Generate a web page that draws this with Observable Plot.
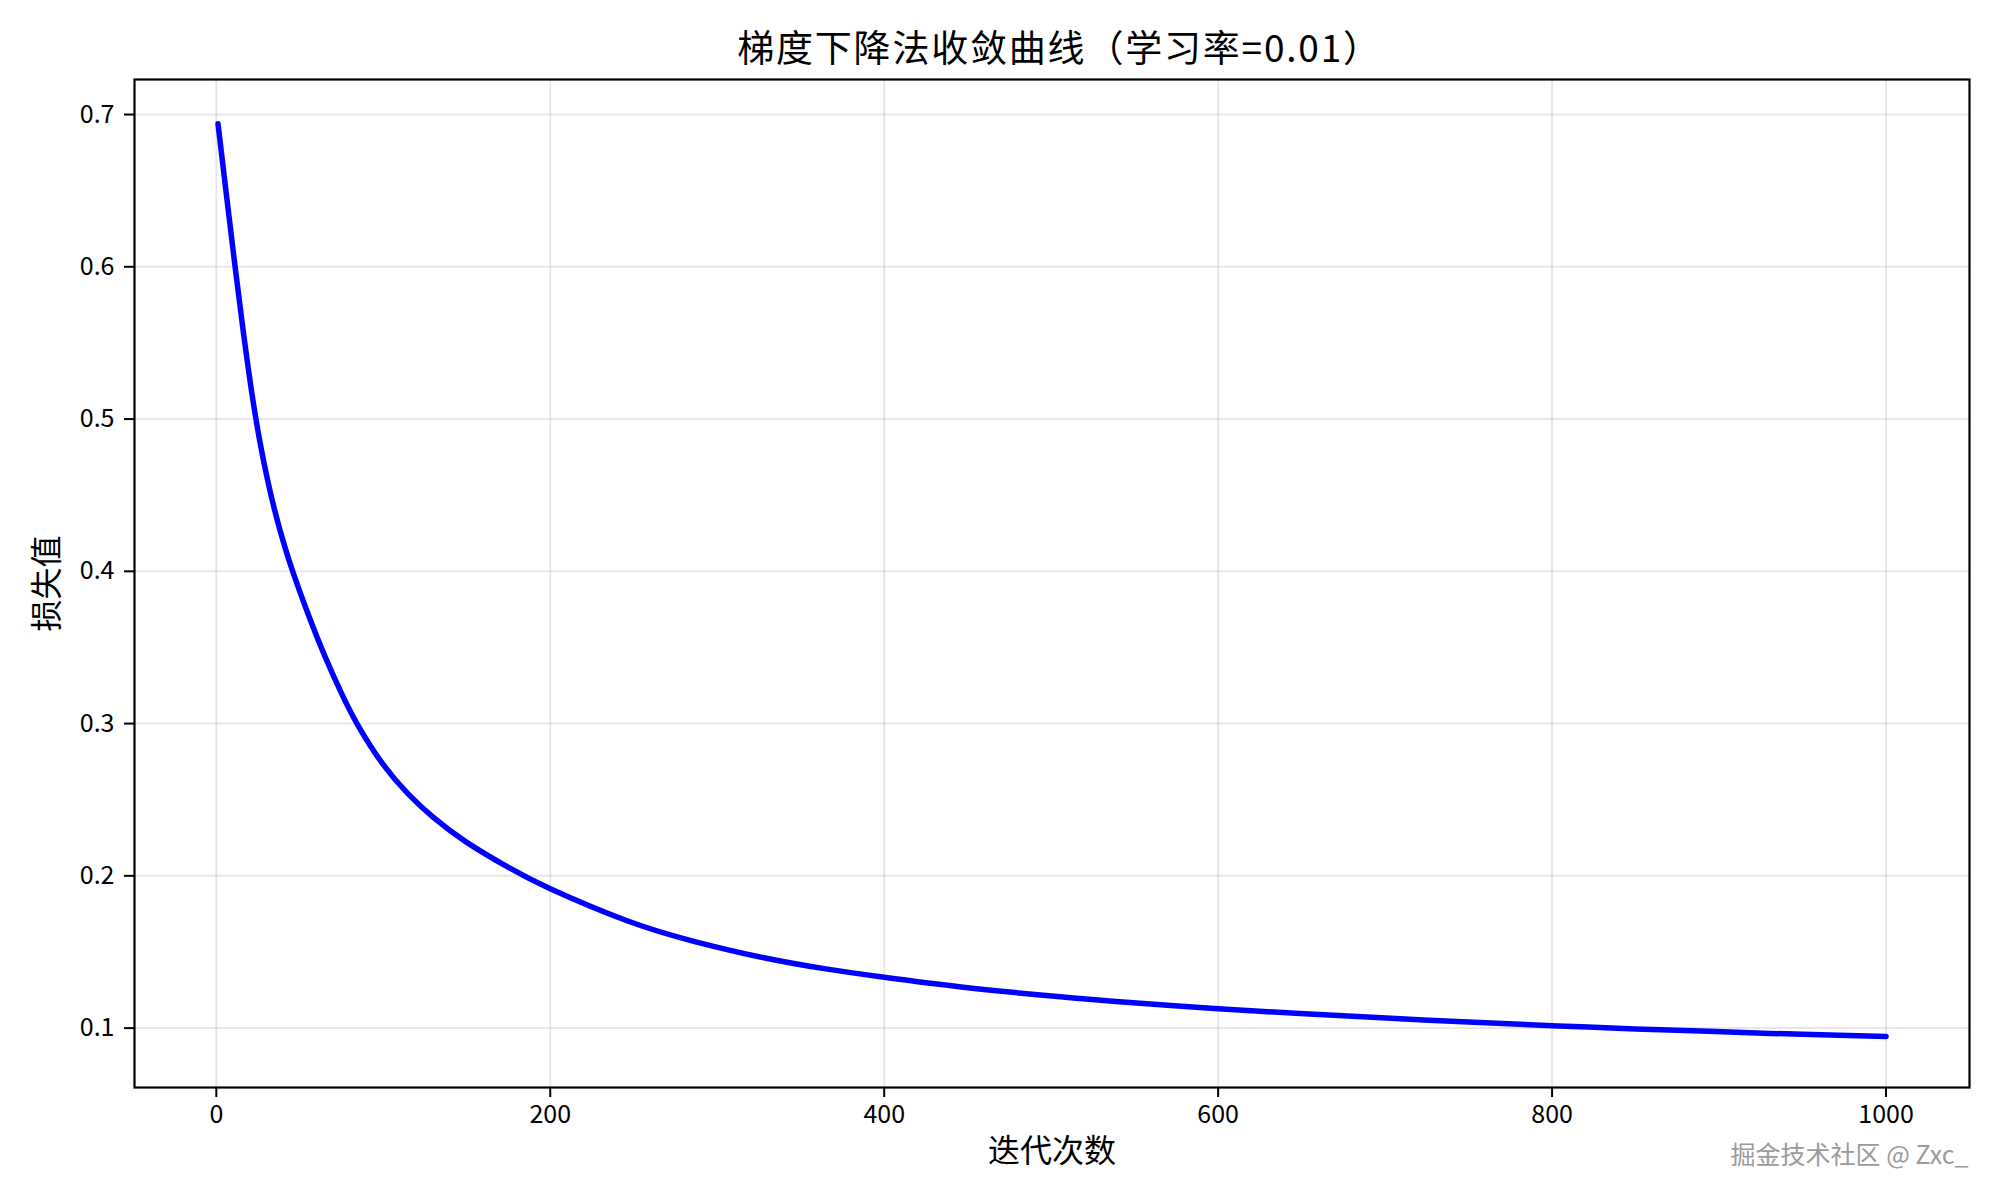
<!DOCTYPE html>
<html>
<head>
<meta charset="utf-8">
<script src="https://cdn.jsdelivr.net/npm/d3@7"></script>
<script src="https://cdn.jsdelivr.net/npm/@observablehq/plot@0.6"></script>
<style>
  html, body { margin: 0; padding: 0; background: #fff; }
  #wrap { width: 2000px; height: 1200px; position: relative; font-family: "Noto Sans CJK SC", sans-serif; }
  #title { box-sizing: border-box; height: 70px; padding-top: 28px; padding-left: 16px; margin-left: 134px; width: 1835px;
           text-align: center; font-size: 37px; line-height: 1; color: #000; letter-spacing: 1.8px; }
</style>
</head>
<body>
<div id="wrap">
  <div id="title">梯度下降法收敛曲线（学习率=0.01）</div>
  <div id="chart"></div>
</div>
<script>
const iterations = [1, 6, 11, 16, 21, 26, 31, 36, 41, 46, 55, 65, 75, 85, 100, 115, 130, 150, 175, 200, 246, 286, 325, 365, 400, 445, 492, 537, 600, 649, 695, 750, 800, 850, 898, 950, 1000];
const losses = [0.694, 0.6477, 0.6022, 0.5587, 0.5192, 0.4857, 0.4585, 0.4357, 0.4162, 0.3992, 0.3718, 0.3443, 0.3198, 0.2985, 0.273, 0.2537, 0.2384, 0.222, 0.2055, 0.1915, 0.1705, 0.1570, 0.1469, 0.1389, 0.1334, 0.1272, 0.1219, 0.1176, 0.1127, 0.1096, 0.1069, 0.1040, 0.1016, 0.0995, 0.0977, 0.0959, 0.0945];
const xTicks = [0, 200, 400, 600, 800, 1000];
const yTicks = [0.1, 0.2, 0.3, 0.4, 0.5, 0.6, 0.7];
const xLabel = "迭代次数";
const yLabel = "损失值";
const watermark = "掘金技术社区 @ Zxc_";

const data = iterations.map((it, i) => ({iter: it, loss: losses[i]}));

const font = "Noto Sans CJK SC";
const plot = Plot.plot({
  width: 2000,
  height: 1130,
  marginTop: 9,
  marginLeft: 134,
  marginRight: 31,
  marginBottom: 113,
  style: {fontFamily: font, background: "#fff", color: "#000"},
  x: {domain: [-49, 1050]},
  y: {domain: [0.061, 0.723]},
  marks: [
    Plot.gridX(xTicks, {stroke: "#b0b0b0", strokeOpacity: 0.3, strokeWidth: 2}),
    Plot.gridY(yTicks, {stroke: "#b0b0b0", strokeOpacity: 0.3, strokeWidth: 2}),
    Plot.line(data, {x: "iter", y: "loss", stroke: "#0000ff", strokeWidth: 5.5, curve: "natural"}),
    Plot.frame({stroke: "#000", strokeWidth: 2.2}),
    Plot.axisX({ticks: xTicks, tickSize: 10, tickPadding: 8, fontSize: 25, label: null, strokeWidth: 2, tickFormat: d3.format("d")}),
    Plot.axisY({ticks: yTicks, tickSize: 10, tickPadding: 10, fontSize: 25, label: null, strokeWidth: 2, tickFormat: d3.format(".1f")}),
    Plot.text([xLabel], {frameAnchor: "bottom", dy: 64, text: d => d, fontSize: 32, textAnchor: "middle", lineAnchor: "middle", fill: "#000"}),
    Plot.text([yLabel], {frameAnchor: "left", dx: -87, text: d => d, fontSize: 32, rotate: -90, textAnchor: "middle", lineAnchor: "middle", fill: "#000"}),
    Plot.text([watermark], {frameAnchor: "bottom-right", dx: -1, dy: 68, text: d => d, fontSize: 25, textAnchor: "end", lineAnchor: "middle", fill: "#9a9a9a", stroke: "#ffffff", strokeWidth: 1, paintOrder: "stroke"})
  ]
});
document.getElementById("chart").appendChild(plot);
</script>
</body>
</html>
